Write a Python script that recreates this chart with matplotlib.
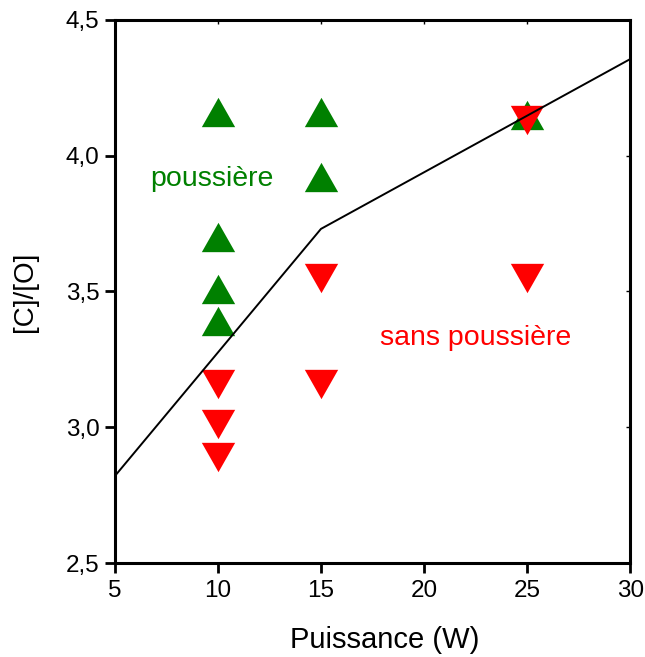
import matplotlib
matplotlib.use("Agg")
import matplotlib.pyplot as plt
from matplotlib.ticker import FuncFormatter

plt.rcParams['font.family'] = ['Liberation Sans', 'DejaVu Sans']

# Data
dust_x = [10, 10, 10, 10, 15, 15, 25]
dust_y = [4.16, 3.70, 3.51, 3.39, 4.16, 3.92, 4.15]
nodust_x = [10, 10, 10, 15, 15, 25, 25]
nodust_y = [3.16, 3.01, 2.89, 3.55, 3.16, 4.13, 3.55]
line_x = [5, 15, 30]
line_y = [2.82, 3.73, 4.355]
x_ticks = [5, 10, 15, 20, 25, 30]
y_ticks = [2.5, 3.0, 3.5, 4.0, 4.5]

fig = plt.figure(figsize=(6.45, 6.57), dpi=100)
ax = fig.add_axes([0.178, 0.143, 0.799, 0.827])

up = [(0, 0.88), (-1, -0.88), (1, -0.88), (0, 0.88)]
down = [(0, -0.88), (-1, 0.88), (1, 0.88), (0, -0.88)]
ax.plot(dust_x, dust_y, linestyle='none', marker=up, ms=24, color='#008000', mec='none', zorder=2)
ax.plot(nodust_x, nodust_y, linestyle='none', marker=down, ms=24, color='#ff0000', mec='none', zorder=3)
ax.plot(line_x, line_y, color='black', lw=1.4, zorder=4)

ax.text(9.7, 3.915, 'poussière', color='#008000', fontsize=20.5, ha='center', va='center')
ax.text(22.5, 3.33, 'sans poussière', color='#ff0000', fontsize=20.5, ha='center', va='center')

ax.set_xlim(5, 30)
ax.set_ylim(2.5, 4.5)
ax.set_xticks(x_ticks)
ax.set_yticks(y_ticks)
ax.yaxis.set_major_formatter(FuncFormatter(lambda v, p: f"{v:.1f}".replace('.', ',')))
ax.tick_params(axis='both', which='major', direction='out', length=7, width=2, labelsize=17.5)
ax.tick_params(axis='x', pad=5)
ax.tick_params(axis='y', pad=4)
ax.tick_params(top=False, right=False)
for s in ax.spines.values():
    s.set_linewidth(2.2)

# small inward ticks on top and right
ax2 = ax.secondary_xaxis('top')
ax2.set_xticks(x_ticks)
ax2.tick_params(direction='in', length=3, width=1, labeltop=False)
ax3 = ax.secondary_yaxis('right')
ax3.set_yticks(y_ticks)
ax3.tick_params(direction='in', length=3, width=1, labelright=False)

ax.set_xlabel('Puissance (W)', fontsize=21)
ax.xaxis.set_label_coords(0.523, -0.116)
ax.set_ylabel('[C]/[O]', fontsize=20, labelpad=20)

fig.savefig('out.png', dpi=100)
